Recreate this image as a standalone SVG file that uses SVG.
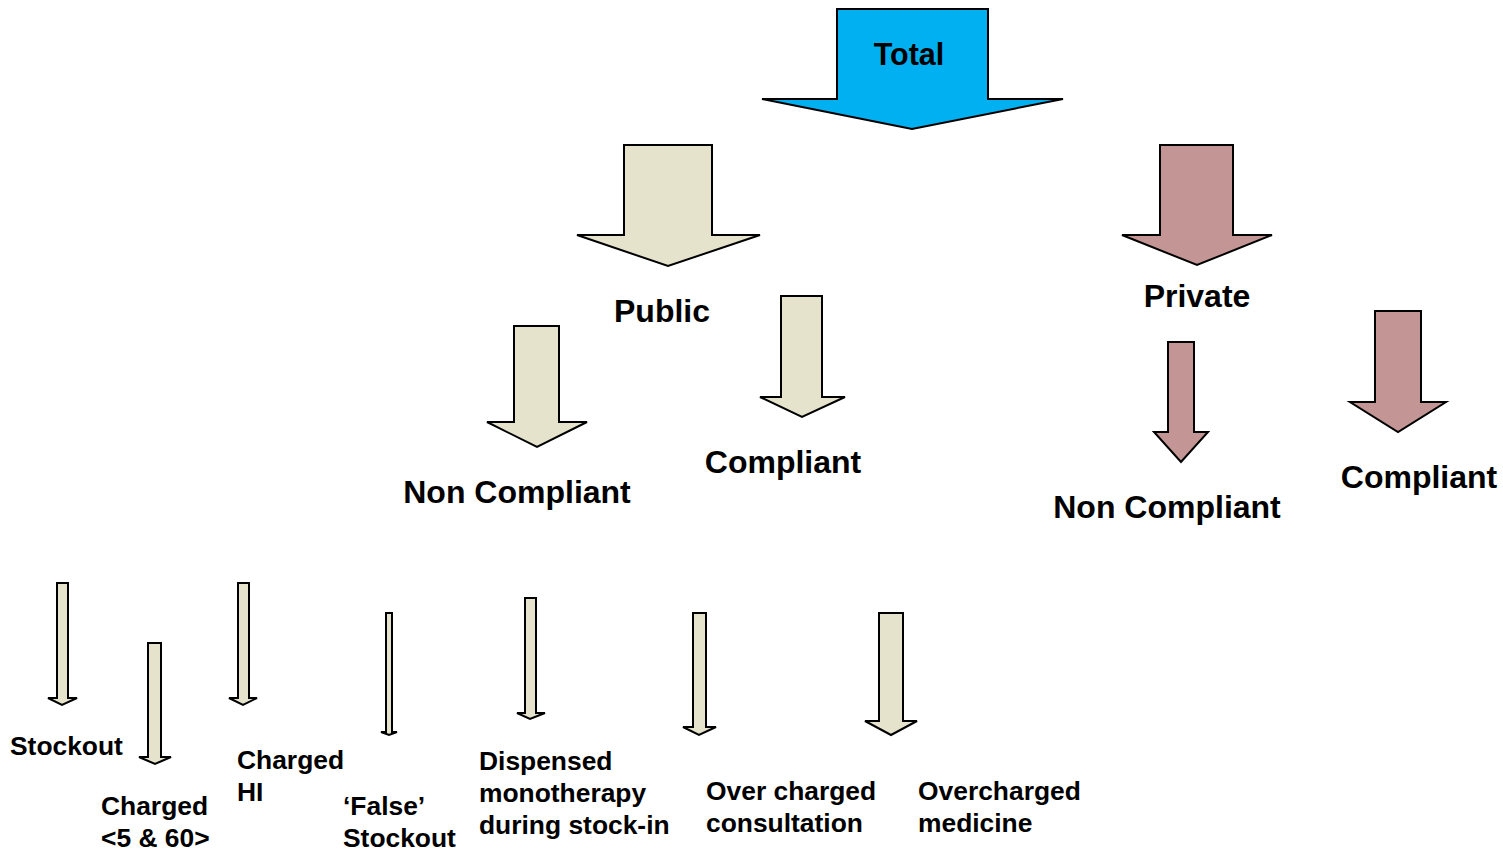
<svg xmlns="http://www.w3.org/2000/svg" width="1503" height="850" viewBox="0 0 1503 850">
<style>
.a{stroke:#000;stroke-width:2;stroke-linejoin:miter}
.blue{fill:#00B0F0}
.beige{fill:#E5E3CC}
.pink{fill:#C49595}
text{font-family:"Liberation Sans",Arial,sans-serif;font-weight:bold;fill:#000}
.big{font-size:32px}
.sm{font-size:26.4px}
</style>
<rect width="1503" height="850" fill="#fff"/>
<g id="total">
<polygon class="a blue" points="837,9 988,9 988,99 1063,99 912,129 762,99 837,99"/>
<text x="909" y="65" font-size="30.5" text-anchor="middle">Total</text>
</g>
<g id="public">
<polygon class="a beige" points="624,145 712,145 712,235 760,235 668,266 577,235 624,235"/>
<text class="big" x="662" y="322" text-anchor="middle">Public</text>
</g>
<g id="private">
<polygon class="a pink" points="1160,145 1233,145 1233,235 1272,235 1197,265 1122,235 1160,235"/>
<text class="big" x="1197" y="307" text-anchor="middle">Private</text>
</g>
<g id="public-noncompliant">
<polygon class="a beige" points="514,326 559,326 559,422 587,422 537,447 487,422 514,422"/>
<text class="big" x="517" y="503" text-anchor="middle">Non Compliant</text>
</g>
<g id="public-compliant">
<polygon class="a beige" points="781,296 822,296 822,397 845,397 802,417 760,397 781,397"/>
<text class="big" x="783" y="473" text-anchor="middle">Compliant</text>
</g>
<g id="private-noncompliant">
<polygon class="a pink" points="1168,342 1194,342 1194,432 1208,432 1181,462 1154,432 1168,432"/>
<text class="big" x="1167" y="518" text-anchor="middle">Non Compliant</text>
</g>
<g id="private-compliant">
<polygon class="a pink" points="1375,311 1421,311 1421,402 1446,402 1398,432 1350,402 1375,402"/>
<text class="big" x="1419" y="488" text-anchor="middle">Compliant</text>
</g>
<g id="stockout">
<polygon class="a beige" points="57,583 68,583 68,698 77,698 62,705 48,698 57,698"/>
<text class="sm" x="10" y="755">Stockout</text>
</g>
<g id="charged-5-60">
<polygon class="a beige" points="148,643 161,643 161,757 171,757 155,764 139,757 148,757"/>
<text class="sm" x="101" y="815">Charged</text>
<text class="sm" x="101" y="847">&lt;5 &amp; 60&gt;</text>
</g>
<g id="charged-hi">
<polygon class="a beige" points="238,583 249,583 249,698 257,698 243,705 229,698 238,698"/>
<text class="sm" x="237" y="769">Charged</text>
<text class="sm" x="237" y="801">HI</text>
</g>
<g id="false-stockout">
<polygon class="a beige" points="386,613 392,613 392,732 397,732 389,735 381,732 386,732"/>
<text class="sm" x="343" y="815">‘False’</text>
<text class="sm" x="343" y="847">Stockout</text>
</g>
<g id="dispensed-monotherapy">
<polygon class="a beige" points="525,598 536,598 536,713 545,713 530,719 517,713 525,713"/>
<text class="sm" x="479" y="770">Dispensed</text>
<text class="sm" x="479" y="802">monotherapy</text>
<text class="sm" x="479" y="834">during stock-in</text>
</g>
<g id="overcharged-consultation">
<polygon class="a beige" points="693,613 706,613 706,727 716,727 699,735 683,727 693,727"/>
<text class="sm" x="706" y="800">Over charged</text>
<text class="sm" x="706" y="832">consultation</text>
</g>
<g id="overcharged-medicine">
<polygon class="a beige" points="879,613 903,613 903,721 917,721 891,735 865,721 879,721"/>
<text class="sm" x="918" y="800">Overcharged</text>
<text class="sm" x="918" y="832">medicine</text>
</g>
</svg>
